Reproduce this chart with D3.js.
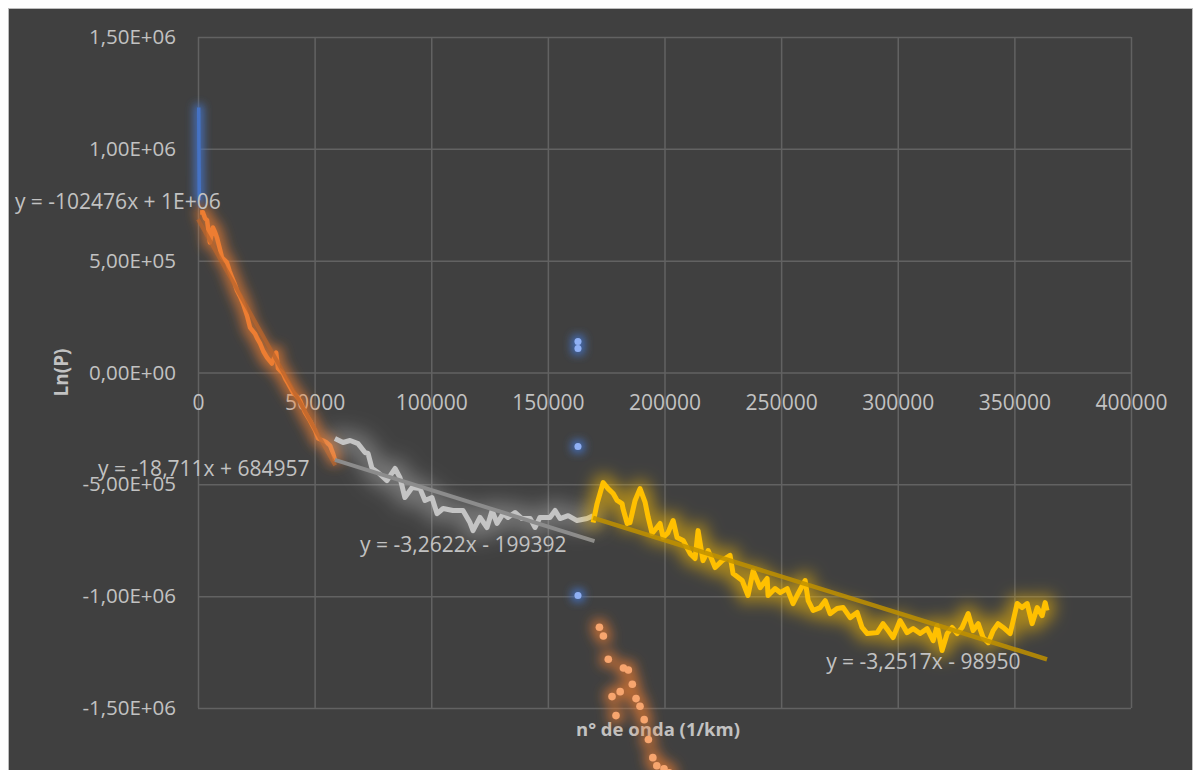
<!DOCTYPE html>
<html>
<head>
<meta charset="utf-8">
<script src="https://cdn.jsdelivr.net/npm/d3@7"></script>
<style>
  body { margin: 0; background: #ffffff; }
  svg text { font-family: "Open Sans", "Noto Sans", sans-serif; }
</style>
</head>
<body>
<div id="chart"></div>
<script>
// eixos
const xTicks = [0, 50000, 100000, 150000, 200000, 250000, 300000, 350000, 400000];
const xTickLabels = ["0", "50000", "100000", "150000", "200000", "250000", "300000", "350000", "400000"];
const yTicks = [-1500000, -1000000, -500000, 0, 500000, 1000000, 1500000];
const yTickLabels = ["-1,50E+06", "-1,00E+06", "-5,00E+05", "0,00E+00", "5,00E+05", "1,00E+06", "1,50E+06"];
const xTitle = "n° de onda (1/km)";
const yTitle = "Ln(P)";

// series (x, Ln(P))
const blueLine = [[300, 1185000], [400, 1000000], [500, 850000], [600, 770000]];
const blueDots = [[162900, 139000], [162900, 107000], [162900, -331000], [162900, -997000]];

const orangeLine = [
  [900, 715600], [2100, 716000], [3000, 690000], [3900, 680000], [5100, 581000], [6400, 648000],
  [7200, 630000], [8100, 604000], [9200, 560000], [10300, 514000], [12400, 492000], [13500, 455000],
  [14600, 425000], [15600, 400000], [16700, 367000], [18000, 340000], [19300, 308000], [21000, 255000],
  [22300, 201000], [24400, 174000], [25500, 150000], [26600, 130000], [28000, 95000], [29600, 67000],
  [31700, 40000], [33500, 89000], [34300, 18000], [36400, -4000], [37500, -30000], [38600, -49000],
  [40700, -89000], [42200, -105000], [43700, -125000], [45900, -179000], [48000, -215000],
  [50200, -259000], [51500, -295000], [53600, -304000], [55000, -312000], [56600, -326000],
  [57900, -362000], [58800, -394000]
];
const orangeDots = [
  [172100, -1139000], [173800, -1178000], [175900, -1282000], [182400, -1321000], [184500, -1330000],
  [186200, -1394000], [181000, -1427000], [177500, -1449000], [187800, -1458000], [189500, -1492000],
  [179200, -1534000], [191300, -1552000], [193100, -1641000], [195000, -1722000], [196700, -1758000],
  [199800, -1772000], [202000, -1790000]
];

const grayLine = [
  [58700, -295000], [62200, -313000], [65200, -304000], [68600, -318000], [71600, -358000],
  [72900, -362000], [74600, -429000], [77200, -447000], [81000, -483000], [84500, -429000],
  [86600, -470000], [88700, -559000], [91800, -514000], [95200, -519000], [97300, -572000],
  [100300, -559000], [102500, -631000], [105100, -608000], [109300, -617000], [113600, -617000],
  [116600, -671000], [117900, -707000], [120900, -648000], [123900, -693000], [126100, -617000],
  [128200, -675000], [130800, -631000], [132900, -648000], [135900, -626000], [138900, -653000],
  [142400, -653000], [144500, -693000], [146600, -648000], [150900, -648000], [153100, -617000],
  [155200, -653000], [158700, -640000], [162500, -662000], [166800, -653000], [169400, -640000]
];

const yellowLine = [
  [169400, -671000], [171100, -586000], [173700, -492000], [175800, -519000], [178000, -541000],
  [179700, -572000], [181800, -586000], [182200, -608000], [184000, -675000], [185200, -671000],
  [187400, -572000], [189500, -519000], [191700, -581000], [193000, -648000], [194700, -720000],
  [198100, -675000], [199400, -738000], [201500, -716000], [203700, -662000], [205400, -738000],
  [208000, -751000], [211000, -810000], [213100, -832000], [214400, -707000], [216500, -841000],
  [218700, -796000], [221700, -872000], [224700, -841000], [228100, -818000], [229400, -899000],
  [233300, -930000], [235800, -997000], [238000, -886000], [241000, -962000], [244000, -921000],
  [244400, -997000], [247400, -966000], [249600, -984000], [252600, -966000], [255100, -1033000],
  [257300, -988000], [260300, -930000], [261600, -1020000], [263700, -1064000], [266700, -1051000],
  [268900, -1020000], [271000, -1078000], [274000, -1055000], [276600, -1051000], [279600, -1096000],
  [282600, -1073000], [284700, -1140000], [286900, -1167000], [291200, -1163000], [293700, -1123000],
  [295900, -1154000], [298000, -1185000], [301000, -1109000], [304000, -1163000], [306600, -1145000],
  [309600, -1167000], [312600, -1145000], [315200, -1199000], [316900, -1132000], [319000, -1243000],
  [321200, -1167000], [323300, -1140000], [325500, -1167000], [327600, -1140000], [330200, -1078000],
  [332300, -1154000], [334500, -1123000], [336600, -1185000], [338800, -1208000], [340900, -1154000],
  [343000, -1123000], [345200, -1140000], [348200, -1167000], [351200, -1033000], [353300, -1051000],
  [355500, -1033000], [357600, -1123000], [359800, -1051000], [361900, -1087000], [363200, -1029000],
  [364000, -1064000]
];

// linhas de tendência: [inclinação, intercepto, x inicial, x final]
const trendOrange = [-18.711, 684957, 0, 58800];
const trendGray = [-3.2622, -199392, 58700, 170000];
const trendYellow = [-3.2517, -98950, 169400, 364000];

const trendLabels = ["y = -102476x + 1E+06", "y = -18,711x + 684957", "y = -3,2622x - 199392", "y = -3,2517x - 98950"];
const trendLabelAt = [[-78500, 765000], [-42900, -425000], [69500, -765000], [269300, -1288000]];

const WIDTH = 1200, HEIGHT = 770;
const svg = d3.select("#chart").append("svg")
  .attr("width", WIDTH).attr("height", HEIGHT);

svg.append("rect")
  .attr("x", 8.5).attr("y", 8.5).attr("width", 1184).attr("height", 775)
  .attr("fill", "#404040").attr("stroke", "#bdbdbd").attr("stroke-width", 1);

const x = d3.scaleLinear().domain([0, 400000]).range([198, 1131]);
const y = d3.scaleLinear().domain([-1500000, 1500000]).range([708, 37]);

// brilho (glow) estilo Excel
const defs = svg.append("defs");
function glow(id, color, dilate, blur, opacity) {
  const f = defs.append("filter").attr("id", id)
    .attr("filterUnits", "userSpaceOnUse")
    .attr("x", 0).attr("y", 0).attr("width", WIDTH).attr("height", HEIGHT + 40);
  f.append("feMorphology").attr("in", "SourceAlpha").attr("operator", "dilate")
    .attr("radius", dilate).attr("result", "d");
  f.append("feGaussianBlur").attr("in", "d").attr("stdDeviation", blur).attr("result", "b");
  f.append("feFlood").attr("flood-color", color).attr("flood-opacity", opacity).attr("result", "c");
  f.append("feComposite").attr("in", "c").attr("in2", "b").attr("operator", "in").attr("result", "g");
  const m = f.append("feMerge");
  m.append("feMergeNode").attr("in", "g");
  m.append("feMergeNode").attr("in", "SourceGraphic");
}
glow("glowBlue", "#4472c4", 3, 4, 0.9);
glow("glowOrange", "#ed7d31", 4, 6, 0.7);
glow("glowGray", "#d0d0d0", 6, 10, 0.4);
glow("glowYellow", "#ffc000", 5, 8, 0.55);

// grade
svg.append("g")
  .attr("transform", "translate(0,708)")
  .call(d3.axisBottom(x).tickValues(xTicks).tickSize(-671).tickFormat(""))
  .call(g => g.select(".domain").remove())
  .call(g => g.selectAll("line").attr("stroke", "#626262").attr("stroke-width", 1.5));
svg.append("g")
  .attr("transform", "translate(198,0)")
  .call(d3.axisLeft(y).tickValues(yTicks).tickSize(-933).tickFormat(""))
  .call(g => g.select(".domain").remove())
  .call(g => g.selectAll("line").attr("stroke", "#626262").attr("stroke-width", 1.5));

// rótulos dos eixos
svg.append("g")
  .attr("transform", `translate(0,${y(0)})`)
  .call(d3.axisBottom(x).tickValues(xTicks).tickSize(0).tickPadding(23)
    .tickFormat((d, i) => xTickLabels[i]))
  .call(g => g.select(".domain").remove())
  .call(g => g.selectAll("text").attr("fill", "#c2c2c2").attr("font-size", 21)
    .attr("font-family", "Open Sans"));
svg.append("g")
  .attr("transform", "translate(176,0)")
  .call(d3.axisLeft(y).tickValues(yTicks).tickSize(0).tickPadding(0)
    .tickFormat((d, i) => yTickLabels[i]))
  .call(g => g.select(".domain").remove())
  .call(g => g.selectAll("text").attr("fill", "#c2c2c2").attr("font-size", 20.5)
    .attr("font-family", "Open Sans"));

svg.append("text")
  .attr("transform", `translate(61,${y(0)}) rotate(-90)`)
  .attr("text-anchor", "middle").attr("dominant-baseline", "central")
  .attr("font-size", 19).attr("font-weight", "bold").attr("fill", "#c2c2c2")
  .text(yTitle);
svg.append("text")
  .attr("x", 658).attr("y", 728)
  .attr("text-anchor", "middle").attr("dominant-baseline", "central")
  .attr("font-size", 18.5).attr("font-weight", "bold").attr("fill", "#c2c2c2")
  .text(xTitle);

const line = d3.line().x(d => x(d[0])).y(d => y(d[1]));
function trend(t) {
  return [[t[2], t[0] * t[2] + t[1]], [t[3], t[0] * t[3] + t[1]]];
}

// azul
svg.append("path").datum(blueLine)
  .attr("d", line).attr("fill", "none").attr("stroke", "#4472c4")
  .attr("stroke-width", 3.5).attr("filter", "url(#glowBlue)");
svg.append("g").attr("filter", "url(#glowBlue)")
  .selectAll("circle").data(blueDots).join("circle")
  .attr("cx", d => x(d[0])).attr("cy", d => y(d[1])).attr("r", 3.5)
  .attr("fill", "#8fb0f5");

// laranja
svg.append("path").datum(orangeLine)
  .attr("d", line).attr("fill", "none").attr("stroke", "#ed7d31")
  .attr("stroke-width", 4.5).attr("stroke-linejoin", "round").attr("filter", "url(#glowOrange)");
svg.append("path").datum(trend(trendOrange))
  .attr("d", line).attr("fill", "none").attr("stroke", "#b8642c")
  .attr("stroke-opacity", 0.75).attr("stroke-width", 4);
svg.append("g").attr("filter", "url(#glowOrange)")
  .selectAll("circle").data(orangeDots).join("circle")
  .attr("cx", d => x(d[0])).attr("cy", d => y(d[1])).attr("r", 3.8)
  .attr("fill", "#f7a56e");

// cinza
svg.append("path").datum(grayLine)
  .attr("d", line).attr("fill", "none").attr("stroke", "#c4c4c4")
  .attr("stroke-width", 5).attr("stroke-linejoin", "round").attr("filter", "url(#glowGray)");
svg.append("path").datum(trend(trendGray))
  .attr("d", line).attr("fill", "none").attr("stroke", "#8c8c8c")
  .attr("stroke-width", 4);

// amarelo
svg.append("path").datum(yellowLine)
  .attr("d", line).attr("fill", "none").attr("stroke", "#ffc000")
  .attr("stroke-width", 5).attr("stroke-linejoin", "round").attr("filter", "url(#glowYellow)");
svg.append("path").datum(trend(trendYellow))
  .attr("d", line).attr("fill", "none").attr("stroke", "#bf9000")
  .attr("stroke-opacity", 0.85).attr("stroke-width", 4.5);

// equações
svg.append("g").selectAll("text").data(trendLabels).join("text")
  .attr("x", (d, i) => x(trendLabelAt[i][0]))
  .attr("y", (d, i) => y(trendLabelAt[i][1]))
  .attr("dominant-baseline", "central")
  .attr("font-size", 21).attr("fill", "#c2c2c2")
  .text(d => d);
</script>
</body>
</html>
